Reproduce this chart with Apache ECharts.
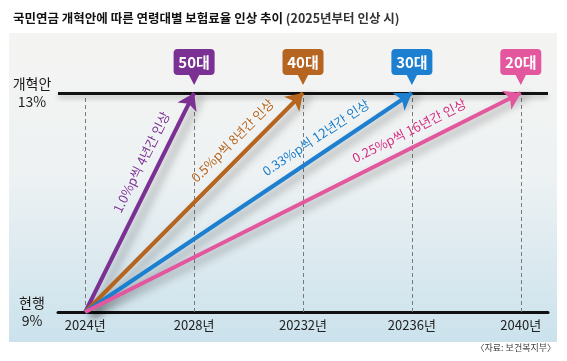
<!DOCTYPE html>
<html><head><meta charset="utf-8">
<script src="https://cdn.jsdelivr.net/npm/echarts@6/dist/echarts.min.js"></script>
<style>html,body{margin:0;padding:0;background:#fff}#c{width:567px;height:361px}</style>
</head><body><div id="c"></div>
<script>
const ageGroups = ['50대', '40대', '30대', '20대'];
const startYear = 2024;
const startRate = 9;
const endYears = [2028, 2032, 2036, 2040];
const endRate = 13;
const rateLabels = ['1.0%p씩 4년간 인상', '0.5%p씩 8년간 인상', '0.33%p씩 12년간 인상', '0.25%p씩 16년간 인상'];
const tickYears = [2024, 2028, 2032, 2036, 2040];
const tickLabels = ['2024년', '2028년', '20232년', '20236년', '2040년'];
const rateTicks = [9, 13];
const rateTickLabels = ['현행\n9%', '개혁안\n13%'];

const colors = ['#7b3193', '#b5651f', '#1c7fcf', '#e2579e'];
const labelColors = ['#7b3193', '#b5651f', '#1a7cc8', '#d42c80'];
const labelBack = [30, 28, 42, 54];
const FONT = '"Noto Sans CJK KR", sans-serif';

const chart = echarts.init(document.getElementById('c'), null, {renderer: 'canvas'});

const calloutPath = 'path://M4,0 H36 Q40,0 40,4 V22 Q40,26 36,26 H25 L20,36 L15,26 H4 Q0,26 0,22 V4 Q0,0 4,0 Z';

const series = [];
series.push({
  type: 'line', data: [], silent: true,
  markLine: {
    silent: true, symbol: ['none', 'none'], animation: false,
    label: {show: false},
    lineStyle: {color: '#7a7a7a', type: [4, 3], width: 1},
    data: tickYears.map(y => ({xAxis: y}))
  }
});
series.push({
  type: 'line', data: [], silent: true,
  markLine: {
    silent: true, symbol: ['none', 'none'], animation: false,
    label: {show: false},
    lineStyle: {color: '#111', type: 'solid', width: 3, shadowColor: 'rgba(0,0,0,0.25)', shadowBlur: 5, shadowOffsetY: 3},
    data: [{yAxis: endRate}]
  }
});
ageGroups.forEach((g, i) => {
  series.push({
    name: g, type: 'line', data: [], silent: true,
    markLine: {
      silent: true, animation: false,
      symbol: ['none', 'arrow'], symbolSize: 16,
      lineStyle: {color: colors[i], width: 4, type: 'solid',
        shadowColor: 'rgba(0,0,0,0.35)', shadowBlur: 8, shadowOffsetX: 7, shadowOffsetY: 3},
      label: {
        show: true, position: 'insideEndTop', distance: [labelBack[i], 10],
        formatter: rateLabels[i], color: labelColors[i], fontSize: 13,
        fontFamily: FONT, textShadowColor: 'rgba(255,255,255,0.8)', textShadowBlur: 2
      },
      data: [[{coord: [startYear, startRate]}, {coord: [endYears[i], endRate]}]]
    },
    markPoint: {
      silent: true, animation: false,
      symbol: calloutPath, symbolKeepAspect: false,
      symbolSize: [41, 36], symbolOffset: [0, -26],
      itemStyle: {color: colors[i]},
      label: {show: true, position: 'inside', offset: [0, -5], formatter: g,
        color: '#fff', fontSize: 15, fontWeight: 'bold', fontFamily: FONT},
      data: [{coord: [endYears[i], endRate]}]
    }
  });
});

chart.setOption({
  animation: false,
  backgroundColor: '#fff',
  graphic: [
    {type: 'rect', z: -10, shape: {x: 9, y: 33, width: 548, height: 309},
     style: {fill: new echarts.graphic.LinearGradient(0, 0, 0, 1, [
       {offset: 0, color: '#f4f4f2'}, {offset: 0.45, color: '#eef2f3'}, {offset: 1, color: '#cbe2ec'}])}},
    {type: 'text', right: 11, top: 343,
     style: {text: '〈자료: 보건복지부〉', fill: '#444', fontSize: 9, fontFamily: FONT}}
  ],
  title: {
    left: 8, top: 7,
    text: '{b|국민연금 개혁안에 따른 연령대별 보험료율 인상 추이}{n| (2025년부터 인상 시)}',
    textStyle: {rich: {
      b: {fontSize: 12.5, fontWeight: 'bold', color: '#111', fontFamily: FONT},
      n: {fontSize: 12.5, color: '#333', fontFamily: FONT}
    }}
  },
  grid: {left: 58, right: 19, top: 93, bottom: 49},
  xAxis: {
    type: 'value', min: 2023, max: 2041,
    axisLine: {show: true, onZero: false, lineStyle: {color: '#111', width: 3}},
    axisTick: {show: false}, splitLine: {show: false},
    axisLabel: {customValues: tickYears, formatter: v => tickLabels[tickYears.indexOf(v)],
      color: '#222', fontSize: 13, margin: 7, fontFamily: FONT}
  },
  yAxis: {
    type: 'value', min: 9, max: 13,
    axisLine: {show: false}, axisTick: {show: false}, splitLine: {show: false},
    axisLabel: {customValues: rateTicks, formatter: v => rateTickLabels[rateTicks.indexOf(v)],
      align: 'center', margin: 26, color: '#1a1a1a', fontSize: 14, lineHeight: 18, fontFamily: FONT}
  },
  series: series
});
</script></body></html>
